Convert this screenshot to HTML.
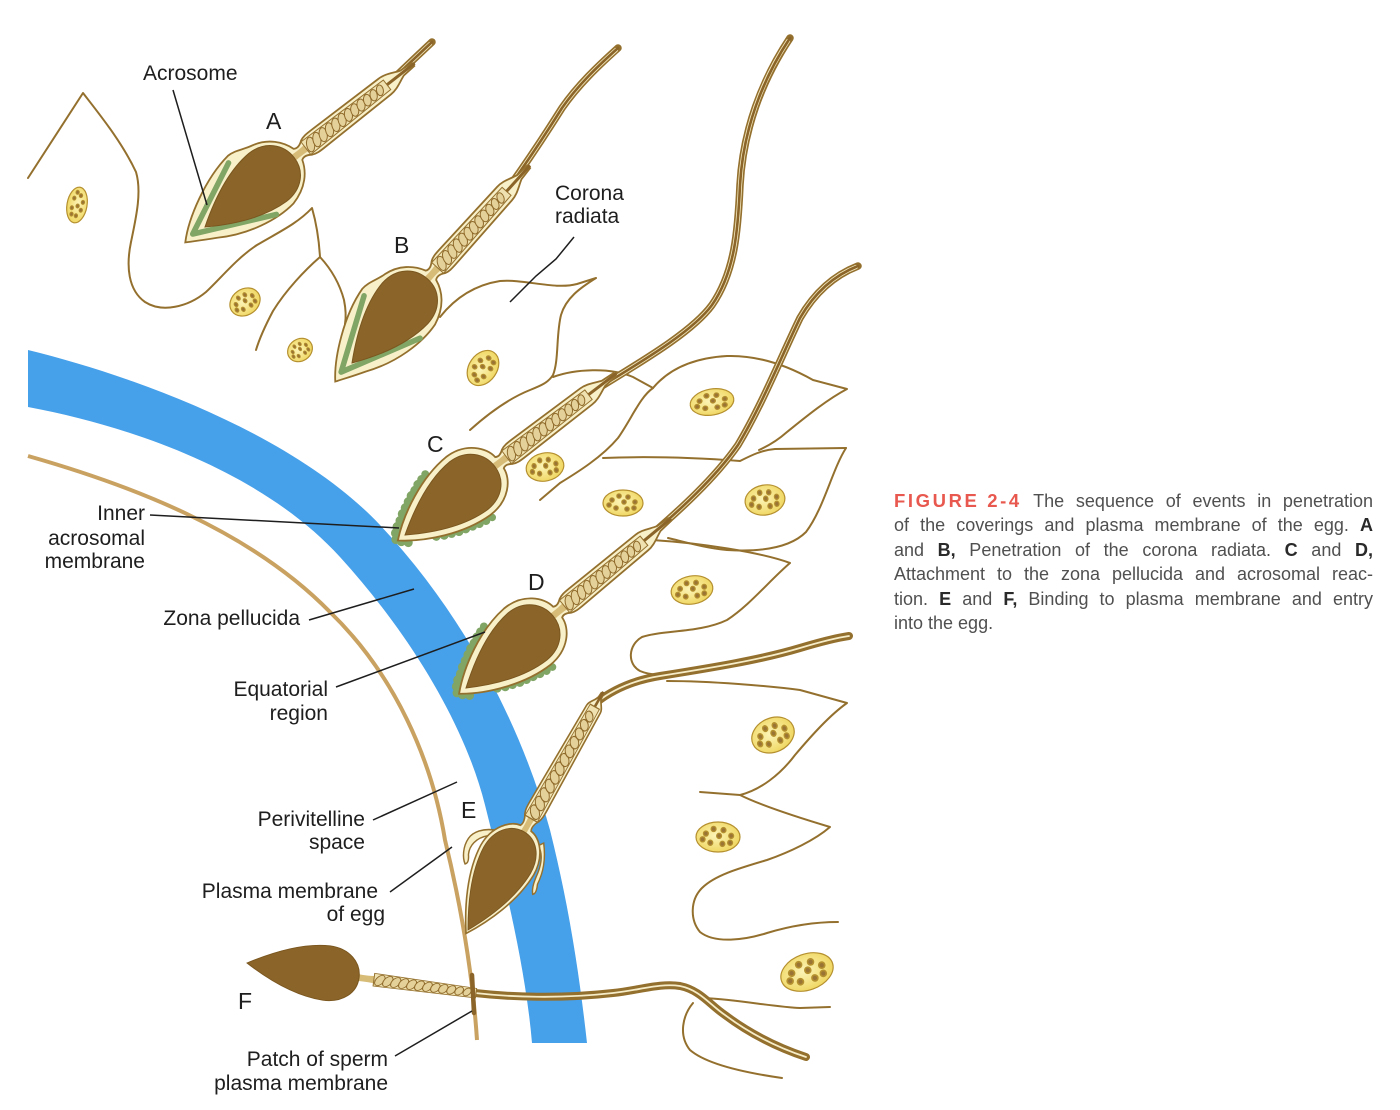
<!DOCTYPE html>
<html><head><meta charset="utf-8">
<style>
html,body{margin:0;padding:0;background:#fff;}
#wrap{position:relative;width:1400px;height:1110px;overflow:hidden;background:#fff;}
svg{position:absolute;left:0;top:0;}
#cap{position:absolute;left:894px;top:489px;width:479px;font-family:"Liberation Sans",sans-serif;font-size:18px;line-height:24.4px;color:#505050;}
#cap .j{text-align:justify;text-align-last:justify;white-space:nowrap;}
#cap b{color:#2a2a2a;}
#cap .fig{display:inline-block;color:#e8584e;letter-spacing:2.6px;font-weight:bold;font-size:18.5px;}
</style></head>
<body><div id="wrap">
<svg width="1400" height="1110" viewBox="0 0 1400 1110" xmlns="http://www.w3.org/2000/svg">
<defs>
 <radialGradient id="ng" cx="45%" cy="45%" r="60%"><stop offset="0" stop-color="#fcf4b8"/><stop offset="1" stop-color="#efd55c"/></radialGradient>
 <path id="head" d="M0,0 C20,-13 50,-30 80,-31 C100,-31 113,-17 113,0 C113,17 100,30 80,30 C50,29 20,13 0,0 Z"/>
 <path id="neck" d="M108,-4 C115,-3 122,-3 131,-4 L131,4 C122,3 115,3 108,4 Z" fill="#d7bc78"/>
 <g id="rope">
  <path d="M128,-8 L231,-6 L231,6 L128,8 Z" fill="#efe2b0" stroke="#94702e" stroke-width="1"/>
  <g fill="#e4d19a" stroke="#8f6a2a" stroke-width="1">
   <ellipse cx="134" cy="0" rx="4" ry="7.4" transform="rotate(28 134 0)"/>
   <ellipse cx="142" cy="0" rx="4" ry="7.3" transform="rotate(28 142 0)"/>
   <ellipse cx="150" cy="0" rx="4" ry="7.1" transform="rotate(28 150 0)"/>
   <ellipse cx="158" cy="0" rx="4" ry="7" transform="rotate(28 158 0)"/>
   <ellipse cx="166" cy="0" rx="4" ry="6.8" transform="rotate(28 166 0)"/>
   <ellipse cx="174" cy="0" rx="4" ry="6.7" transform="rotate(28 174 0)"/>
   <ellipse cx="182" cy="0" rx="4" ry="6.5" transform="rotate(28 182 0)"/>
   <ellipse cx="190" cy="0" rx="4" ry="6.3" transform="rotate(28 190 0)"/>
   <ellipse cx="198" cy="0" rx="4" ry="6.1" transform="rotate(28 198 0)"/>
   <ellipse cx="206" cy="0" rx="3.8" ry="5.9" transform="rotate(28 206 0)"/>
   <ellipse cx="214" cy="0" rx="3.6" ry="5.7" transform="rotate(28 214 0)"/>
   <ellipse cx="222" cy="0" rx="3.4" ry="5.4" transform="rotate(28 222 0)"/>
  </g>
 </g>
 <g id="dots" fill="#9a7434">
  <circle cx="-11" cy="-3" r="2.2"/><circle cx="-4" cy="-7" r="2.2"/><circle cx="5" cy="-6" r="2.2"/>
  <circle cx="12" cy="-1" r="2.2"/><circle cx="1" cy="-1" r="2.2"/><circle cx="-7" cy="5" r="2.2"/>
  <circle cx="4" cy="6" r="2.2"/><circle cx="11" cy="5" r="2.2"/><circle cx="-14" cy="2" r="2.2"/>
 </g>
 <path id="envA" d="M-25,0 C-8,-17 30,-38 62,-42 C72,-42 78,-37 88,-35 C104,-31 114,-19 118,-7 C121,-5 125,-6 129,-9 C133,-11 137,-11 142,-11 L228,-10 C236,-10 242,-6 250,-3 L264,-2 L264,2 L250,3 C242,6 236,10 228,10 L142,11 C137,11 133,11 129,9 C125,6 121,5 118,7 C114,19 104,31 84,36 C62,39 30,33 3,16 C-10,9 -18,4 -25,0 Z"/>
 <path id="envC" d="M-9,0 C12,-18 48,-36 80,-37 C104,-37 118,-20 119,-7 C122,-5 125,-6 129,-9 C133,-11 137,-11 142,-11 L228,-10 C236,-10 242,-6 250,-3 L264,-2 L264,2 L250,3 C242,6 236,10 228,10 L142,11 C137,11 133,11 129,9 C125,6 122,5 119,7 C118,20 104,36 80,36 C48,35 12,18 -9,0 Z"/>
 <g id="green" fill="#80a565">
  <circle cx="-10" cy="-2" r="4.5"/><circle cx="-6" cy="-7" r="5"/><circle cx="-1" cy="-11" r="5"/>
  <circle cx="5" cy="-14" r="5"/><circle cx="11" cy="-18" r="5"/><circle cx="17" cy="-21" r="5"/>
  <circle cx="23" cy="-24" r="5"/><circle cx="29" cy="-27" r="5"/><circle cx="35" cy="-29" r="5"/>
  <circle cx="41" cy="-32" r="4.8"/><circle cx="47" cy="-34" r="4.5"/><circle cx="53" cy="-36" r="4"/>
  <circle cx="-7" cy="3" r="4.5"/><circle cx="-2" cy="8" r="4.5"/>
  <circle cx="24" cy="20" r="4.5"/><circle cx="31" cy="24" r="4.5"/><circle cx="38" cy="27" r="4.5"/>
  <circle cx="45" cy="30" r="4.5"/><circle cx="52" cy="32" r="4.5"/><circle cx="59" cy="34" r="4.5"/>
  <circle cx="66" cy="36" r="4.5"/><circle cx="73" cy="38" r="4.2"/><circle cx="80" cy="39" r="3.8"/>
 </g>
</defs>

<!-- Zona pellucida -->
<path d="M28,350 C150,380 300,440 380,525 C460,610 520,720 550,830 C570,910 580,980 587,1043 L532,1043 C525,960 500,865 485,805 C465,725 410,634 340,557 C270,480 150,430 28,407 Z" fill="#47a0ea"/>

<!-- Egg plasma membrane -->
<path d="M28,456 C130,485 250,530 330,612 C395,675 432,760 445,840 C462,910 473,980 477,1040" fill="none" stroke="#c9a262" stroke-width="4"/>

<!-- Corona radiata cells -->
<g fill="none" stroke="#94702e" stroke-width="2" stroke-linecap="round" stroke-linejoin="round">
 <path d="M28,178 L83,93 C100,115 122,142 136,172 C142,192 136,218 131,242 C126,266 128,290 145,302 C162,313 188,307 206,292 C222,277 237,258 257,245 C277,233 297,224 312,208 C316,222 319,240 320,257"/>
 <path d="M320,257 C305,270 286,290 273,311 C264,328 259,340 256,350"/>
 <path d="M320,257 C332,270 340,285 344,300 C346,310 346,318 345,324"/>
 <path d="M440,317 C455,298 475,285 500,281 C525,279 555,290 577,284 L596,278 C580,288 566,298 561,315 C556,335 559,360 553,375 C548,383 540,386 530,390 C510,398 490,412 470,430"/>
 <path d="M553,377 C575,369 610,367 633,377 L653,388"/>
 <path d="M653,388 C668,370 692,358 727,356 C760,355 790,367 813,380 L847,389 C826,400 802,420 787,432 C778,440 768,446 759,450"/>
 <path d="M653,388 C640,397 632,418 618,438 C602,457 578,472 560,483 L540,500"/>
 <path d="M603,458 C650,456 700,458 740,461 C752,455 762,450 775,449 L846,448"/>
 <path d="M846,448 C832,470 824,508 806,532 C790,548 760,552 727,550 C705,548 685,542 668,538"/>
 <path d="M652,540 C700,543 760,552 790,563 C770,580 750,605 727,620 C700,633 663,630 642,637 C628,645 627,664 640,671 C654,677 668,674 680,672"/>
 <path d="M667,681 C710,681 770,686 800,690 L847,703 C830,715 812,735 795,755 C780,775 760,790 740,795 L700,792"/>
 <path d="M740,795 C760,805 790,815 830,827 C815,840 790,852 767,860 C740,868 715,875 702,888 C690,900 690,920 700,932 C715,944 745,940 767,933 C790,926 815,922 838,922"/>
 <path d="M705,998 C740,1000 775,1007 800,1008 L830,1007"/>
 <path d="M693,1003 C683,1015 678,1035 690,1050 C705,1063 740,1072 782,1078"/>
</g>

<!-- Nuclei -->
<g stroke="#b5902f" stroke-width="1.2" fill="url(#ng)">
 <g transform="translate(77,205) rotate(100)"><ellipse rx="18" ry="10"/><use href="#dots" transform="scale(0.9,0.77)"/></g>
 <g transform="translate(245,302) rotate(-35)"><ellipse rx="16" ry="13"/><use href="#dots" transform="scale(0.8,1)"/></g>
 <g transform="translate(300,350) rotate(-35)"><ellipse rx="13" ry="11"/><use href="#dots" transform="scale(0.65,0.85)"/></g>
 <g transform="translate(483,368) rotate(-55)"><ellipse rx="19" ry="14"/><use href="#dots" transform="scale(0.95,1.08)"/></g>
 <g transform="translate(545,467) rotate(-12)"><ellipse rx="19" ry="14"/><use href="#dots" transform="scale(0.95,1.08)"/></g>
 <g transform="translate(712,402) rotate(-10)"><ellipse rx="22" ry="13"/><use href="#dots" transform="scale(1.1,1)"/></g>
 <g transform="translate(623,503)"><ellipse rx="20" ry="13"/><use href="#dots"/></g>
 <g transform="translate(765,500) rotate(-10)"><ellipse rx="20" ry="15"/><use href="#dots" transform="scale(1,1.15)"/></g>
 <g transform="translate(692,590) rotate(-10)"><ellipse rx="21" ry="14"/><use href="#dots" transform="scale(1.05,1.08)"/></g>
 <g transform="translate(773,735) rotate(-25)"><ellipse rx="22" ry="17"/><use href="#dots" transform="scale(1.1,1.3)"/></g>
 <g transform="translate(718,837)"><ellipse rx="22" ry="15"/><use href="#dots" transform="scale(1.1,1.15)"/></g>
 <g transform="translate(807,972) rotate(-20)"><ellipse rx="27" ry="18"/><use href="#dots" transform="scale(1.35,1.38)"/></g>
</g>

<!-- Tails (A-D triple line) -->
<g fill="none" stroke-linecap="round">
 <g stroke="#94702e" stroke-width="7.5">
  <path d="M388,84 C400,72 415,58 432,42"/>
  <path d="M507,190 C525,165 545,135 562,108 C578,85 598,66 618,48"/>
  <path d="M589,394 C630,368 690,335 712,305 C735,272 738,230 740,185 C743,130 762,80 790,38"/>
  <path d="M645,540 C680,510 715,478 738,445 C762,405 782,355 800,318 C815,292 835,275 858,266"/>
 </g>
 <g stroke="#f3e8bf" stroke-width="4.2">
  <path d="M388,84 C400,72 415,58 430,44"/>
  <path d="M507,190 C525,165 545,135 562,108 C578,85 598,66 616,50"/>
  <path d="M589,394 C630,368 690,335 712,305 C735,272 738,230 740,185 C743,130 762,80 788,41"/>
  <path d="M645,540 C680,510 715,478 738,445 C762,405 782,355 800,318 C815,292 835,275 856,267"/>
 </g>
 <g stroke="#8a6428" stroke-width="2.6">
  <path d="M388,84 C400,72 415,58 432,42"/>
  <path d="M507,190 C525,165 545,135 562,108 C578,85 598,66 618,48"/>
  <path d="M589,394 C630,368 690,335 712,305 C735,272 738,230 740,185 C743,130 762,80 790,38"/>
  <path d="M645,540 C680,510 715,478 738,445 C762,405 782,355 800,318 C815,292 835,275 858,266"/>
 </g>
 <!-- E and F tails -->
 <g stroke="#94702e" stroke-width="8">
  <path d="M597,702 C615,688 635,680 660,676 C710,668 760,660 800,648 C820,642 835,638 849,636"/>
  <path d="M475,993 C510,997 560,999 613,993 C640,990 660,983 680,986 C700,990 710,1005 725,1015 C745,1030 770,1045 806,1057"/>
 </g>
 <g stroke="#f6edc8" stroke-width="1.8">
  <path d="M597,702 C615,688 635,680 660,676 C710,668 760,660 800,648 C820,642 835,638 849,636"/>
  <path d="M475,993 C510,997 560,999 613,993 C640,990 660,983 680,986 C700,990 710,1005 725,1015 C745,1030 770,1045 806,1057"/>
 </g>
</g>

<!-- Sperm A -->
<g transform="translate(205,227) rotate(-38)">
 <use href="#envA" fill="#f8f0c9" stroke="#94702e" stroke-width="1.8"/>
 <path d="M58,-36 L-14,-2 L64,34" fill="none" stroke="#80a565" stroke-width="5.5" stroke-linecap="round" stroke-linejoin="round"/>
 <path d="M226,0 L266,0" stroke="#8a6428" stroke-width="3"/>
 <use href="#neck"/><use href="#rope"/>
 <use href="#head" fill="#8a6428" stroke="#7a561f" stroke-width="1"/>
</g>
<!-- Sperm B -->
<g transform="translate(352,363) rotate(-48)">
 <use href="#envA" fill="#f8f0c9" stroke="#94702e" stroke-width="1.8"/>
 <path d="M58,-36 L-14,-2 L64,34" fill="none" stroke="#80a565" stroke-width="5.5" stroke-linecap="round" stroke-linejoin="round"/>
 <path d="M226,0 L266,0" stroke="#8a6428" stroke-width="3"/>
 <use href="#neck"/><use href="#rope"/>
 <use href="#head" fill="#8a6428" stroke="#7a561f" stroke-width="1"/>
</g>
<!-- Sperm C -->
<g transform="translate(405,535) rotate(-37.4)">
 <use href="#green"/>
 <use href="#envC" fill="#f8f0c9" stroke="#94702e" stroke-width="1.8"/>
 <path d="M226,0 L266,0" stroke="#8a6428" stroke-width="3"/>
 <use href="#neck"/><use href="#rope"/>
 <use href="#head" fill="#8a6428" stroke="#7a561f" stroke-width="1"/>
</g>
<!-- Sperm D -->
<g transform="translate(466,688) rotate(-39.6)">
 <use href="#green"/>
 <use href="#envC" fill="#f8f0c9" stroke="#94702e" stroke-width="1.8"/>
 <path d="M226,0 L266,0" stroke="#8a6428" stroke-width="3"/>
 <use href="#neck"/><use href="#rope"/>
 <use href="#head" fill="#8a6428" stroke="#7a561f" stroke-width="1"/>
</g>
<!-- Sperm E -->
<g transform="translate(468,930) rotate(-60.4) scale(1,0.88)">
 <path d="M100,-30 C96,-42 88,-50 80,-51 C70,-52 60,-46 56,-40 C58,-37 62,-39 66,-42 C74,-46 84,-44 92,-33 Z" fill="#f8f0c9" stroke="#94702e" stroke-width="1.6"/>
 <path d="M108,22 C104,30 96,35 84,37 C76,38 68,39 63,44 C65,47 70,45 74,43 C88,42 100,37 113,26 Z" fill="#f8f0c9" stroke="#94702e" stroke-width="1.6"/>
 <path d="M-4,0 C18,-16 50,-34 80,-35 C102,-35 116,-19 117,-7 C120,-5 125,-6 129,-9 C133,-11 137,-11 142,-11 L254,-9 C258,-9 261,-5 266,-2 L272,-1.5 L272,1.5 L266,2 C261,5 258,9 254,9 L142,11 C137,11 133,11 129,9 C125,6 120,5 117,7 C116,19 102,34 80,34 C50,33 18,16 -4,0 Z" fill="#f8f0c9" stroke="#94702e" stroke-width="1.8"/>
 <path d="M250,0 L274,0" stroke="#8a6428" stroke-width="3"/>
 <use href="#neck"/>
 <use href="#rope" transform="translate(128,0) scale(1.25,1) translate(-128,0)"/>
 <use href="#head" fill="#8a6428" stroke="#7a561f" stroke-width="1"/>
</g>
<!-- Sperm F -->
<g transform="translate(247,963) rotate(7.5)">
 <use href="#neck"/>
 <use href="#rope" transform="scale(1,0.8)"/>
 <use href="#head" transform="scale(1,0.9)" fill="#8a6428" stroke="#7a561f" stroke-width="1"/>
</g>
<!-- patch of sperm plasma membrane -->
<path d="M472,975 L474,1013" stroke="#8a6428" stroke-width="4.5" stroke-linecap="round"/>

<!-- Pointer lines -->
<g stroke="#1e1e1e" stroke-width="1.5" fill="none">
 <path d="M173,90 L207,205"/>
 <path d="M574,237 L556,259 L536,276 L510,302"/>
 <path d="M150,515 L399,528"/>
 <path d="M309,620 L414,589"/>
 <path d="M336,687 L485,632"/>
 <path d="M373,820 L457,782"/>
 <path d="M390,892 L452,847"/>
 <path d="M395,1056 L472,1011"/>
</g>

<!-- Labels -->
<g font-family="Liberation Sans, sans-serif" fill="#1e1e1e">
 <g font-size="21">
  <text x="143" y="80">Acrosome</text>
  <text x="555" y="200">Corona</text>
  <text x="555" y="223">radiata</text>
  <g text-anchor="end">
   <text x="145" y="520">Inner</text>
   <text x="145" y="545">acrosomal</text>
   <text x="145" y="568">membrane</text>
   <text x="300" y="625">Zona pellucida</text>
   <text x="328" y="696">Equatorial</text>
   <text x="328" y="720">region</text>
   <text x="365" y="826">Perivitelline</text>
   <text x="365" y="849">space</text>
   <text x="378" y="898">Plasma membrane</text>
   <text x="385" y="921">of egg</text>
   <text x="388" y="1066">Patch of sperm</text>
   <text x="388" y="1090">plasma membrane</text>
  </g>
 </g>
 <g font-size="23">
  <text x="266" y="129">A</text>
  <text x="394" y="253">B</text>
  <text x="427" y="452">C</text>
  <text x="528" y="590">D</text>
  <text x="461" y="818">E</text>
  <text x="238" y="1009">F</text>
 </g>
</g>
</svg>

<div id="cap">
 <div class="j"><span class="fig">FIGURE&nbsp;2-4</span> The sequence of events in penetration</div>
 <div class="j">of the coverings and plasma membrane of the egg. <b>A</b></div>
 <div class="j">and <b>B,</b> Penetration of the corona radiata. <b>C</b> and <b>D,</b></div>
 <div class="j">Attachment to the zona pellucida and acrosomal reac-</div>
 <div class="j">tion. <b>E</b> and <b>F,</b> Binding to plasma membrane and entry</div>
 <div>into the egg.</div>
</div>
</div></body></html>
